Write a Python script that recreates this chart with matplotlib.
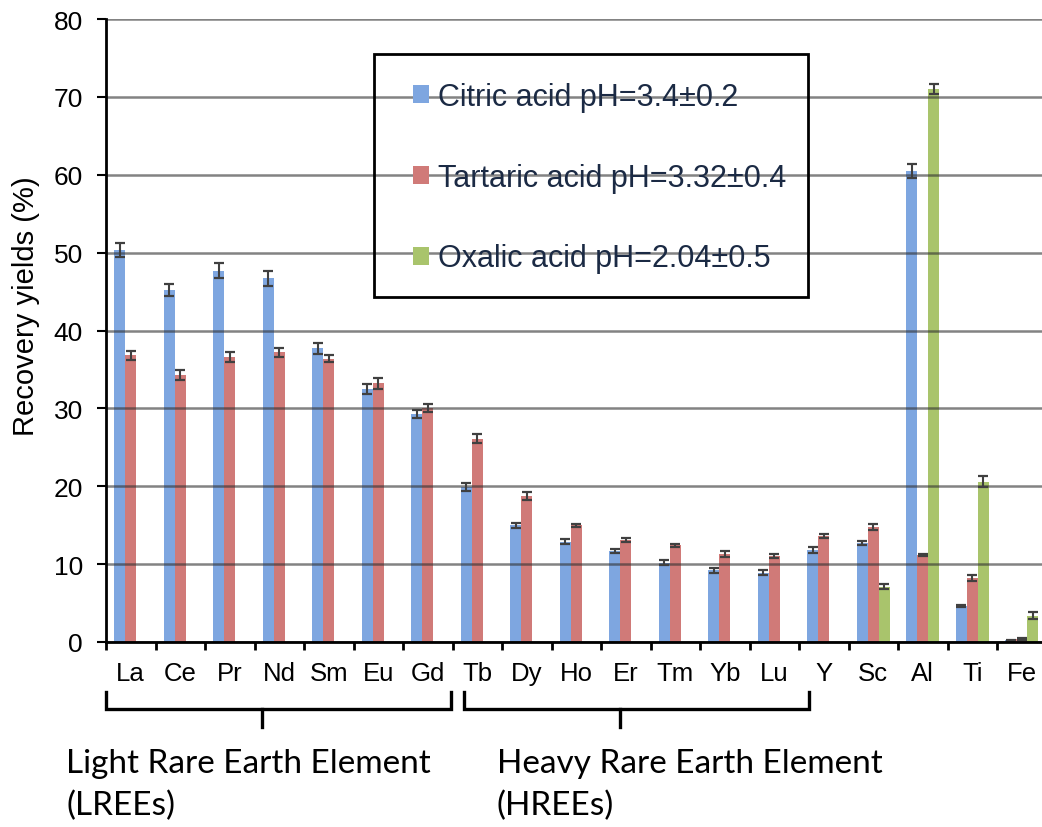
import numpy as np
import matplotlib
matplotlib.use("Agg")
import matplotlib.pyplot as plt
from matplotlib.patches import Rectangle
from matplotlib.transforms import blended_transform_factory

# === data ===
elements = ["La", "Ce", "Pr", "Nd", "Sm", "Eu", "Gd", "Tb", "Dy", "Ho",
            "Er", "Tm", "Yb", "Lu", "Y", "Sc", "Al", "Ti", "Fe"]

citric = [50.4, 45.2, 47.7, 46.7, 37.7, 32.5, 29.3, 19.9, 15.0, 12.9,
          11.7, 10.2, 9.2, 8.9, 11.8, 12.7, 60.5, 4.6, 0.2]
citric_err = [0.9, 0.8, 1.0, 1.0, 0.7, 0.6, 0.5, 0.5, 0.3, 0.3,
              0.3, 0.35, 0.3, 0.3, 0.35, 0.3, 0.9, 0.15, 0.1]

tartaric = [36.8, 34.3, 36.6, 37.2, 36.4, 33.2, 30.0, 26.1, 18.7, 15.0,
            13.1, 12.4, 11.3, 11.0, 13.6, 14.8, 11.2, 8.2, 0.4]
tartaric_err = [0.6, 0.6, 0.6, 0.6, 0.5, 0.7, 0.5, 0.6, 0.5, 0.2,
                0.3, 0.2, 0.35, 0.25, 0.25, 0.4, 0.1, 0.35, 0.1]

# oxalic acid only measured for the last four elements
oxalic_elements = ["Sc", "Al", "Ti", "Fe"]
oxalic = [7.1, 71.0, 20.6, 3.4]
oxalic_err = [0.3, 0.6, 0.75, 0.4]

labels = ["Citric acid pH=3.4±0.2",
          "Tartaric acid pH=3.32±0.4",
          "Oxalic acid pH=2.04±0.5"]
colors = ["#7EA6E0", "#D07A78", "#A9C46C"]

yticks = [0, 10, 20, 30, 40, 50, 60, 70, 80]

# === figure ===
W, H = 1042, 828
fig = plt.figure(figsize=(W / 100, H / 100), dpi=100)
ax = fig.add_axes([106 / W, 1 - 643 / H, 940.5 / W, 623 / H])

x = np.arange(len(elements)) + 0.5
bw = 0.22
err_kw = dict(ecolor="#404040", elinewidth=1.5, capsize=3.5, capthick=1.6, zorder=4)

ax.bar(x - bw, citric, bw, yerr=citric_err, color=colors[0], label=labels[0],
       error_kw=err_kw, zorder=2)
ax.bar(x, tartaric, bw, yerr=tartaric_err, color=colors[1], label=labels[1],
       error_kw=err_kw, zorder=2)
x_ox = np.array([elements.index(e) for e in oxalic_elements]) + 0.5
ax.bar(x_ox + bw, oxalic, bw, yerr=oxalic_err, color=colors[2], label=labels[2],
       error_kw=err_kw, zorder=2)

ax.set_xlim(0, len(elements))
ax.set_ylim(0, 80)
ax.set_yticks(yticks)
ax.set_yticklabels([str(t) for t in yticks], fontsize=19, family="Liberation Sans")

# boundaries as major ticks, names on minor ticks
ax.set_xticks(np.arange(len(elements) + 1))
ax.set_xticklabels([])
ax.set_xticks(x, minor=True)
ax.set_xticklabels(elements, minor=True, fontsize=18.5, family="Liberation Sans")
ax.tick_params(axis="x", which="major", length=6, width=2, direction="out")
ax.tick_params(axis="x", which="minor", length=0, pad=14)
ax.tick_params(axis="y", length=6.5, width=1.5, pad=10)

ax.yaxis.grid(True, color="#303030", alpha=0.6, lw=1.8, zorder=3)
ax.set_axisbelow(False)
for g in ax.get_ygridlines():
    g.set_zorder(3)

for s in ["top", "right"]:
    ax.spines[s].set_visible(False)
for s in ["left", "bottom"]:
    ax.spines[s].set_linewidth(2)
    ax.spines[s].set_color("black")
    ax.spines[s].set_zorder(5)

fig.text(26 / W, 1 - 306 / H, "Recovery yields (%)", rotation=90, fontsize=21,
         family="Liberation Sans", ha="center", va="center")

# legend with a separate box
leg = ax.legend(loc="upper left", bbox_to_anchor=(413 / W, 1 - 83 / H),
                bbox_transform=fig.transFigure, frameon=False, borderpad=0,
                borderaxespad=0, prop={"family": "Liberation Sans", "size": 22},
                handlelength=0.52, handleheight=0.52, handletextpad=0.3,
                labelspacing=1.66)
for t in leg.get_texts():
    t.set_color("#1b2a44")
fig.add_artist(Rectangle((374 / W, 1 - 298 / H), 434 / W, 243 / H,
                         transform=fig.transFigure, fill=False, lw=2,
                         edgecolor="black", zorder=10))

# group brackets below the axis
tr = blended_transform_factory(ax.transData, ax.transAxes)
y_top, y_bar, y_tick = -0.0803, -0.1075, -0.1364
for x0, x1, xm in [(0.0, 6.97, 3.15), (7.23, 14.2, 10.38)]:
    ax.plot([x0, x0, x1, x1], [y_top, y_bar, y_bar, y_top], color="black",
            lw=2.4, transform=tr, clip_on=False, solid_joinstyle="miter")
    ax.plot([xm, xm], [y_bar, y_tick], color="black", lw=2.4, transform=tr,
            clip_on=False)

for xpx, l1, l2 in [(66, "Light Rare Earth Element", "(LREEs)"),
                    (497, "Heavy Rare Earth Element", "(HREEs)")]:
    fig.text(xpx / W, 1 - 773 / H, l1, fontsize=24, family="Lato",
             ha="left", va="baseline")
    fig.text(xpx / W, 1 - 815 / H, l2, fontsize=24, family="Lato",
             ha="left", va="baseline")

fig.savefig("out.png", dpi=100)
